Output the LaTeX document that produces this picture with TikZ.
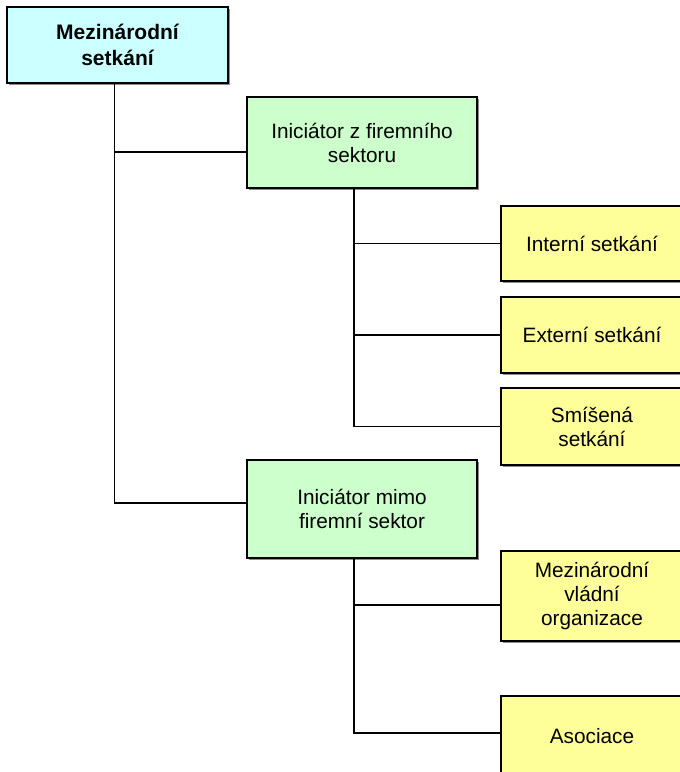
\documentclass[tikz,border=0pt]{standalone}
\usepackage{fontspec}
\setmainfont{Liberation Sans}
\usepackage{tikz}
\usetikzlibrary{shadows}

\definecolor{rootcyan}{HTML}{CCFFFF}
\definecolor{initgreen}{HTML}{CCFFCC}
\definecolor{kindyellow}{HTML}{FFFF99}

\begin{document}
\begin{tikzpicture}[x=1pt, y=-1pt,
    box/.style={draw, line width=1.7pt, align=center, inner sep=0pt,
        font=\fontsize{20.8}{24}\selectfont,
        drop shadow={shadow xshift=1.5pt, shadow yshift=-1.5pt, fill=black!45, opacity=1}},
    rootbox/.style={box, fill=rootcyan, minimum width=221pt, minimum height=76pt,
        font=\fontsize{21}{26}\selectfont\bfseries},
    initbox/.style={box, fill=initgreen, minimum width=230pt},
    kindbox/.style={box, fill=kindyellow, minimum width=182pt},
    link/.style={line width=1.7pt}]
    \useasboundingbox (0, 0) rectangle (680, 772);

    \node[rootbox] (root) at (117.5, 45) {Mezinárodní\\setkání};

    \node[initbox, minimum height=91pt] (firm) at (362, 142.5) {Iniciátor z firemního\\sektoru};
    \node[initbox, minimum height=98pt] (other) at (362, 509) {Iniciátor mimo\\firemní sektor};

    \node[kindbox, minimum height=75pt] (internal) at (592, 243.5) {Interní setkání};
    \node[kindbox, minimum height=76pt] (external) at (592, 335) {Externí setkání};
    \node[kindbox, minimum height=77pt] (mixed) at (592, 426.5) {Smíšená\\setkání};
    \node[kindbox, minimum height=90pt] (igo) at (592, 596) {Mezinárodní\\vládní\\organizace};
    \node[kindbox, minimum height=80pt] (assoc) at (592, 736) {Asociace};

    % root to initiators
    \draw[link] ([xshift=-3pt]root.south) |- ([yshift=-9.5pt]firm.west);
    \draw[link] ([xshift=-3pt]root.south) |- ([yshift=6pt]other.west);

    % firm sector
    \coordinate (firmdown) at ([xshift=-8pt]firm.south);
    \draw[link] (firmdown) |- (internal.west);
    \draw[link] (firmdown) |- (external.west);
    \draw[link] (firmdown) |- (mixed.west);

    % outside firm sector
    \coordinate (otherdown) at ([xshift=-8pt]other.south);
    \draw[link] (otherdown) |- ([yshift=-9pt]igo.west);
    \draw[link] (otherdown) |- ([yshift=3pt]assoc.west);
\end{tikzpicture}
\end{document}
